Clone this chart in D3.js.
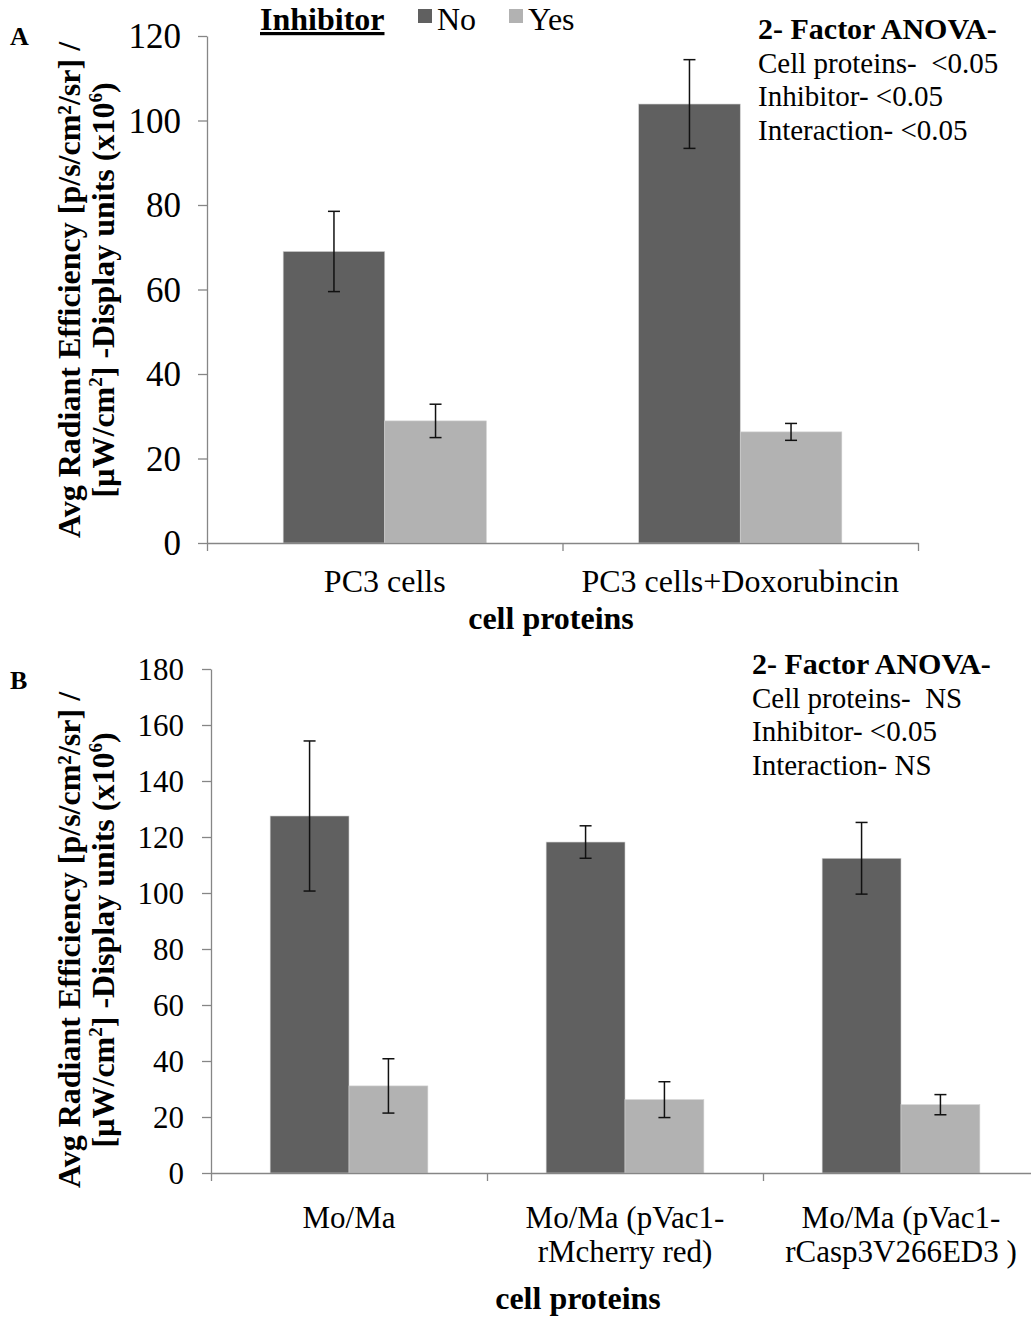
<!DOCTYPE html>
<html><head><meta charset="utf-8">
<script src="https://cdn.jsdelivr.net/npm/d3@7"></script>
<style>body{margin:0;background:#fff}svg{display:block;font-family:"Liberation Serif","Times New Roman",serif}text{white-space:pre}</style>
</head><body><svg id="c" width="1031" height="1318"></svg>
<script>
const series = ["No", "Yes"];
const seriesColors = ["#606060", "#b2b2b2"];

const catsA = [["PC3 cells"], ["PC3 cells+Doxorubincin"]];
const noA = [69.0, 103.9];
const noErrA = [9.5, 10.5];
const yesA = [28.9, 26.3];
const yesErrA = [3.95, 2.0];
const ticksA = [0, 20, 40, 60, 80, 100, 120];
const anovaA = ["2- Factor ANOVA-", "Cell proteins-  <0.05", "Inhibitor- <0.05", "Interaction- <0.05"];

const catsB = [["Mo/Ma"], ["Mo/Ma (pVac1-", "rMcherry red)"], ["Mo/Ma (pVac1-", "rCasp3V266ED3 )"]];
const noB = [127.5, 118.2, 112.4];
const noErrB = [26.8, 5.8, 12.8];
const yesB = [31.1, 26.2, 24.4];
const yesErrB = [9.7, 6.4, 3.6];
const ticksB = [0, 20, 40, 60, 80, 100, 120, 140, 160, 180];
const anovaB = ["2- Factor ANOVA-", "Cell proteins-  NS", "Inhibitor- <0.05", "Interaction- NS"];

const yTitle1 = "Avg Radiant Efficiency [p/s/cm²/sr] /";
const xTitle = "cell proteins";

const svg = d3.select("#c");

function panel(o) {
  const g = svg.append("g");
  const y = d3.scaleLinear().domain([0, o.ymax]).range([o.y0, o.y1]);
  const x = d3.scaleBand().domain(d3.range(o.cats.length)).range([o.x0, o.x1]).padding(0);
  const xs = d3.scaleBand().domain(series).range([0, x.bandwidth()]).paddingInner(0).paddingOuter(0.75);
  const bnd = d3.scaleLinear().domain([0, o.cats.length]).range([o.x0, o.x1]);
  const data = [];
  o.cats.forEach((c, i) => {
    data.push({i, s: "No", v: o.no[i], e: o.noErr[i], col: seriesColors[0]});
    data.push({i, s: "Yes", v: o.yes[i], e: o.yesErr[i], col: seriesColors[1]});
  });
  g.selectAll("rect.bar").data(data).join("rect")
    .attr("x", d => x(d.i) + xs(d.s)).attr("width", xs.bandwidth())
    .attr("y", d => y(d.v)).attr("height", d => y(0) - y(d.v))
    .attr("fill", d => d.col).attr("stroke", "#d0d0d0").attr("stroke-width", 0.6);
  // y axis
  const ya = g.append("g").attr("transform", `translate(${o.x0},0)`)
    .call(d3.axisLeft(y).tickValues(o.ticks).tickSize(9).tickSizeOuter(0).tickPadding(o.tickPad));
  ya.select(".domain").attr("stroke", "#868686").attr("stroke-width", 1.3);
  ya.selectAll(".tick line").attr("stroke", "#868686").attr("stroke-width", 1.3);
  ya.selectAll(".tick text").attr("font-size", o.tickFs).attr("fill", "#000").attr("font-family", "Liberation Serif").attr("dy", "0.34em");
  // x axis
  const xa = g.append("g").attr("transform", `translate(0,${o.y0})`)
    .call(d3.axisBottom(bnd).tickValues(d3.range(o.cats.length + 1)).tickFormat("").tickSize(8).tickSizeOuter(0));
  xa.select(".domain").attr("stroke", "#868686").attr("stroke-width", 1.3);
  xa.selectAll(".tick line").attr("stroke", "#868686").attr("stroke-width", 1.3);
  // error bars
  const eb = g.selectAll("g.err").data(data).join("g").attr("stroke", "#111").attr("stroke-width", 1.5);
  const cx = d => x(d.i) + xs(d.s) + xs.bandwidth() / 2;
  eb.append("line").attr("x1", cx).attr("x2", cx).attr("y1", d => y(d.v + d.e)).attr("y2", d => y(d.v - d.e));
  eb.append("line").attr("x1", d => cx(d) - 6).attr("x2", d => cx(d) + 6).attr("y1", d => y(d.v + d.e)).attr("y2", d => y(d.v + d.e));
  eb.append("line").attr("x1", d => cx(d) - 6).attr("x2", d => cx(d) + 6).attr("y1", d => y(d.v - d.e)).attr("y2", d => y(d.v - d.e));
  // category labels
  o.cats.forEach((c, i) => {
    c.forEach((line, k) => {
      g.append("text").attr("x", x(i) + x.bandwidth() / 2).attr("y", o.catY + k * 34)
        .attr("text-anchor", "middle").attr("font-size", o.catFs).text(line);
    });
  });
  g.append("text").attr("x", o.xtX).attr("y", o.xtY).attr("text-anchor", "middle")
    .attr("font-size", 32).attr("font-weight", "bold").text(xTitle);
  // y title
  const yt = g.append("text").attr("transform", `translate(${o.ytX},${o.ytY}) rotate(-90)`)
    .attr("text-anchor", "middle").attr("font-size", 32).attr("font-weight", "bold");
  yt.append("tspan").attr("x", 0).attr("y", 0).text(yTitle1);
  const t2 = yt.append("tspan").attr("x", 0).attr("y", 34);
  t2.append("tspan").text("[µW/cm");
  t2.append("tspan").attr("font-size", 19).attr("dy", -12).text("2");
  t2.append("tspan").attr("dy", 12).text("] -Display units (x10");
  t2.append("tspan").attr("font-size", 19).attr("dy", -12).text("6");
  t2.append("tspan").attr("dy", 12).text(")");
  // panel letter
  g.append("text").attr("x", 10).attr("y", o.letterY).attr("font-size", 26).attr("font-weight", "bold").text(o.letter);
  // anova
  o.anova.forEach((t, k) => {
    g.append("text").attr("x", o.anX).attr("y", o.anY + k * 33.5).attr("font-size", k === 0 ? 30 : 29)
      .attr("font-weight", k === 0 ? "bold" : "normal").text(t);
  });
}

panel({cats: catsA, no: noA, noErr: noErrA, yes: yesA, yesErr: yesErrA, ticks: ticksA, ymax: 120,
  x0: 207, x1: 918, y0: 543, y1: 36, catY: 592, catFs: 32, tickFs: 35, tickPad: 17,
  xtX: 551, xtY: 629, ytX: 80, ytY: 290,
  letter: "A", letterY: 45, anova: anovaA, anX: 758, anY: 39});
panel({cats: catsB, no: noB, noErr: noErrB, yes: yesB, yesErr: yesErrB, ticks: ticksB, ymax: 180,
  x0: 211, x1: 1039, y0: 1173, y1: 669, catY: 1228, catFs: 31, tickFs: 31, tickPad: 18,
  xtX: 578, xtY: 1309, ytX: 80, ytY: 940,
  letter: "B", letterY: 689, anova: anovaB, anX: 752, anY: 674});

// legend
const lg = svg.append("g");
lg.append("text").attr("x", 260).attr("y", 30).attr("font-size", 32).attr("font-weight", "bold")
  .attr("text-decoration", "underline").text("Inhibitor");
const legX = [418, 509];
series.forEach((s, i) => {
  lg.append("rect").attr("x", legX[i]).attr("y", 9).attr("width", 14).attr("height", 14).attr("fill", seriesColors[i]);
  lg.append("text").attr("x", legX[i] + 19).attr("y", 30).attr("font-size", 32).text(s);
});
</script></body></html>
